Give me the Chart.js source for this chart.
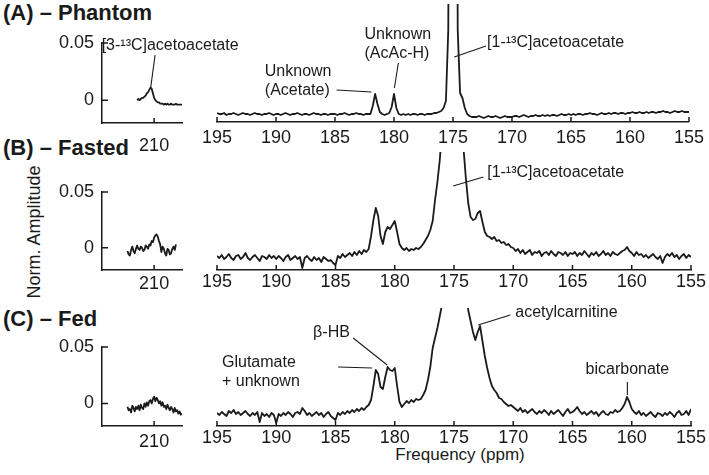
<!DOCTYPE html>
<html>
<head>
<meta charset="utf-8">
<script src="https://cdn.jsdelivr.net/npm/chart.js@4.4.0/dist/chart.umd.min.js"></script>
<style>
  body { margin: 0; background: #fff; }
  #fig {
    position: relative;
    width: 709px;
    height: 475px;
    overflow: hidden;
    font-family: "Liberation Sans", Arial, Helvetica, sans-serif;
    color: #1a1a1a;
  }
  #fig canvas { position: absolute; }
  .title { position: absolute; left: 3px; font-size: 22px; font-weight: bold; line-height: 22px; white-space: nowrap; }
  .ylab { position: absolute; font-size: 18px; white-space: nowrap; transform: translate(-50%, -50%) rotate(-90deg); }
  .xlab { position: absolute; font-size: 17px; white-space: nowrap; transform: translate(-50%, -50%); }
</style>
</head>
<body>
<div id="fig">
  <div class="title" style="top:2px">(A) – Phantom</div>
  <div class="title" style="top:137px">(B) – Fasted</div>
  <div class="title" style="top:308px">(C) – Fed</div>
  <div class="ylab" style="left:34px;top:232px">Norm. Amplitude</div>
  <div class="xlab" style="left:460px;top:455px">Frequency (ppm)</div>

  <canvas id="leftA" width="230" height="133" style="left:40px;top:20px"></canvas>
  <canvas id="leftB" width="230" height="130" style="left:40px;top:170px"></canvas>
  <canvas id="leftC" width="230" height="131" style="left:40px;top:325px"></canvas>
  <canvas id="rightA" width="512" height="152" style="left:197px;top:0px"></canvas>
  <canvas id="rightB" width="512" height="152" style="left:197px;top:148px"></canvas>
  <canvas id="rightC" width="512" height="152" style="left:197px;top:304px"></canvas>
</div>

<script>
// amplitudes are in units of 1e-3 (norm. amplitude)

// 195 -> 155 ppm window
const ppmRight = [
  195,194.8,194.6,194.4,194.2,194,193.8,193.6,193.4,193.2,193,192.8,192.6,192.4,192.2,192,191.8,191.6,191.4,191.2,191,190.8,190.6,190.4,190.2,
  190,189.8,189.6,189.4,189.2,189,188.8,188.6,188.4,188.2,188,187.8,187.6,187.4,187.2,187,186.8,186.6,186.4,186.2,186,185.8,185.6,185.4,185.2,
  185,184.8,184.6,184.4,184.2,184,183.8,183.6,183.4,183.2,183,182.8,182.6,182.4,182.2,182,181.8,181.6,181.4,181.2,181,180.8,180.6,180.4,180.2,
  180,179.8,179.6,179.4,179.2,179,178.8,178.6,178.4,178.2,178,177.8,177.6,177.4,177.2,177,176.8,176.6,176.4,176.2,176,175.8,175.6,175.4,175.2,
  175,174.8,174.6,174.4,174.2,174,173.8,173.6,173.4,173.2,173,172.8,172.6,172.4,172.2,172,171.8,171.6,171.4,171.2,171,170.8,170.6,170.4,170.2,
  170,169.8,169.6,169.4,169.2,169,168.8,168.6,168.4,168.2,168,167.8,167.6,167.4,167.2,167,166.8,166.6,166.4,166.2,166,165.8,165.6,165.4,165.2,
  165,164.8,164.6,164.4,164.2,164,163.8,163.6,163.4,163.2,163,162.8,162.6,162.4,162.2,162,161.8,161.6,161.4,161.2,161,160.8,160.6,160.4,160.2,
  160,159.8,159.6,159.4,159.2,159,158.8,158.6,158.4,158.2,158,157.8,157.6,157.4,157.2,157,156.8,156.6,156.4,156.2,156,155.8,155.6,155.4,155.2,
  155
];

const ampPhantom = [
  -3,-4,-4,-3,-5,-4,-4,-3,-4,-5,-4,-3,-4,-4,-5,-4,-3,-4,-4,-5,-4,-4,-3,-4,-5,
  -4,-4,-5,-4,-3,-4,-5,-4,-4,-3,-4,-5,-4,-4,-5,-4,-3,-4,-4,-5,-4,-4,-5,-4,-4,
  -4,-5,-4,-4,-3,-4,-5,-4,-4,-3,-4,-4,-5,-4,-4,-4,4,16,6,-2,-4,-5,-4,-3,3,
  16,2,-4,-5,-4,-5,-4,-5,-4,-4,-5,-4,-4,-5,-4,-4,-4,-3,-3,-2,-1,2,9,80,700,
  1000,700,80,17,12,2,-4,-6,-7,-7,-7,-6,-7,-8,-7,-6,-7,-7,-6,-7,-8,-7,-6,-7,-7,
  -7,-6,-6,-7,-6,-5,-6,-7,-6,-6,-5,-6,-6,-5,-6,-5,-6,-5,-5,-6,-5,-4,-5,-5,-4,
  -5,-4,-5,-4,-4,-5,-4,-4,-3,-4,-4,-5,-4,-3,-4,-4,-3,-4,-3,-3,-4,-3,-3,-4,-3,
  -3,-2,-3,-3,-2,-3,-3,-2,-3,-2,-2,-3,-2,-2,-1,-2,-2,-3,-2,-1,-2,-2,-1,-2,-2,
  -2
];

const ampFasted = [
  2,0,3,-1,1,4,0,-2,2,3,-1,1,5,0,-2,1,3,0,-3,2,1,-1,3,0,2,
  -1,2,0,-3,1,3,-2,0,2,-1,1,-10,0,2,-1,-3,1,-2,0,-4,1,-1,-3,-2,-5,
  -7,2,0,4,1,3,5,2,6,3,7,4,8,6,9,22,38,50,42,22,14,26,31,29,33,
  37,26,14,10,8,10,7,9,8,10,9,11,14,18,22,28,37,58,76,98,130,170,210,250,280,
  300,280,240,180,110,80,55,41,38,39,45,47,36,26,22,21,19,21,17,18,15,16,13,14,11,
  10,7,9,5,8,4,6,8,3,6,5,7,2,5,6,3,7,4,2,6,5,3,6,2,5,
  4,6,2,5,3,7,4,1,5,3,6,2,4,7,3,5,2,6,4,3,5,7,8,11,7,
  5,2,6,3,4,1,3,0,2,4,1,-1,2,-5,1,4,2,5,1,3,-1,2,4,0,3,
  1
];

const ampFed = [
  1,-1,2,0,-2,3,1,4,0,2,-1,1,3,0,-2,1,-1,2,-8,1,-2,0,-3,1,-1,
  -9,0,-2,1,-1,2,0,-3,1,2,0,6,3,-1,1,-2,0,2,-1,1,-3,0,2,-2,-4,
  -6,1,-1,2,0,3,1,4,2,5,3,6,4,7,9,14,28,44,40,27,25,37,47,44,43,
  46,28,12,7,10,13,11,14,12,15,14,15,19,24,34,47,66,76,86,98,110,150,200,240,270,
  280,270,240,200,160,125,104,93,82,74,82,88,73,58,46,36,28,24,21,16,15,12,10,8,9,
  7,5,3,6,2,4,1,3,5,2,0,3,1,4,2,-1,3,0,2,4,1,-2,2,5,1,
  2,4,7,3,0,2,-1,1,3,0,2,-2,1,3,0,-1,2,1,4,2,3,6,10,17,12,
  5,2,0,3,-1,1,-2,0,2,-1,-3,1,0,-2,1,-1,2,0,-3,1,3,-1,0,3,-1,
  5
];

// ~210 ppm inset window
const ppmLeft = [
  212.2,212.1,212,211.9,211.8,211.7,211.6,211.5,211.4,211.3,
  211.2,211.1,211,210.9,210.8,210.7,210.6,210.5,210.4,210.3,
  210.2,210.1,210,209.9,209.8,209.7,209.6,209.5,209.4,209.3,
  209.2,209.1,209,208.9,208.8,208.7,208.6,208.5,208.4,208.3,
  208.2,208.1,208,207.9,207.8,207.7
];

const insetPhantom = [
  null,null,null,null,null,null,null,null,0,1,
  0,1,2,2,3,4,6,7,9,11,
  10,6,2,0,-1,-2,-2,-3,-3,-3,
  -4,-3,-4,-3,-4,-4,-3,-4,-4,-4,
  -3,-4,-4,-4,-4,-4
];

const insetFasted = [
  -3,-6,-7,-2,1,-3,-5,-1,2,-1,
  -2,1,0,-3,-2,2,1,-1,3,2,
  6,5,9,11,12,10,6,3,-4,1,
  -1,-5,-7,-1,-2,-6,-5,-1,1,-2,
  3,null,null,null,null,null
];

const insetFed = [
  -3,-6,-5,-8,-2,-4,-7,-3,-5,-2,
  -6,-1,-4,-5,0,-3,1,-2,2,3,
  0,4,6,2,5,3,0,2,-2,1,
  -3,-2,-5,-1,-4,-6,-3,-5,-8,-4,
  -7,-6,-9,-7,-10,-9
];

const freqTicks = [195, 190, 185, 180, 175, 170, 165, 160, 155];
const insetTicks = [210];
const ampTicks = [0, 50];
const ampTickLabels = ['0', '0.05'];

const family = '"Liberation Sans", Arial, Helvetica, sans-serif';
const ink = '#1a1a1a';

// labels with leader lines, placed in data coordinates (ppm, amplitude)
const notesPhantomInset = [
  { text: ['[3-¹³C]acetoacetate'], at: [214.33, 48], line: [[209.92, 39.5], [210.29, 10.5]] }
];
const notesPhantom = [
  { text: ['Unknown', '(Acetate)'], at: [190.95, 38], line: [[184.86, 20], [181.91, 18]] },
  { text: ['Unknown', '(AcAc-H)'], at: [182.5, 75], line: [[179.63, 47], [179.97, 22]] },
  { text: ['[1-¹³C]acetoacetate'], at: [172.11, 67], line: [[172.2, 64], [174.9, 53]] }
];
const notesFasted = [
  { text: ['[1-¹³C]acetoacetate'], at: [172.2, 85], line: [[172.53, 81], [175.07, 72]] }
];
const notesFed = [
  { text: ['β-HB'], at: [186.89, 81], line: [[183.51, 76], [180.64, 49]] },
  { text: ['Glutamate', '+ unknown'], at: [194.58, 51], line: [[184.78, 47], [181.91, 46]] },
  { text: ['acetylcarnitine'], at: [169.83, 101], line: [[170.25, 99], [172.96, 89]] },
  { text: ['bicarbonate'], at: [160.37, 44], align: 'center', line: [[160.37, 32], [160.37, 19]] }
];

// tick marks pointing into the plot, like the original figure
const inwardTicks = {
  id: 'inwardTicks',
  afterDraw(chart, args, opts) {
    const { ctx } = chart;
    const xs = chart.scales.x;
    const ys = chart.scales.y;
    ctx.save();
    ctx.strokeStyle = ink;
    ctx.lineWidth = 1.5;
    ctx.beginPath();
    xs.ticks.forEach(t => {
      const px = xs.getPixelForValue(t.value);
      ctx.moveTo(px, xs.top);
      ctx.lineTo(px, xs.top - opts.x);
    });
    if (ys.options.display) {
      ys.ticks.forEach(t => {
        const py = ys.getPixelForValue(t.value);
        ctx.moveTo(ys.right, py);
        ctx.lineTo(ys.right + opts.y, py);
      });
    }
    ctx.stroke();
    ctx.restore();
  }
};

const notes = {
  id: 'notes',
  afterDraw(chart, args, opts) {
    const { ctx } = chart;
    const xs = chart.scales.x;
    const ys = chart.scales.y;
    ctx.save();
    ctx.font = '16px ' + family;
    ctx.fillStyle = ink;
    ctx.strokeStyle = ink;
    ctx.lineWidth = 1.1;
    ctx.textBaseline = 'middle';
    (opts.items || []).forEach(n => {
      const px = xs.getPixelForValue(n.at[0]);
      const py = ys.getPixelForValue(n.at[1]);
      ctx.textAlign = n.align || 'left';
      n.text.forEach((t, k) => ctx.fillText(t, px, py + k * 18.5));
      if (n.line) {
        ctx.beginPath();
        ctx.moveTo(xs.getPixelForValue(n.line[0][0]), ys.getPixelForValue(n.line[0][1]));
        ctx.lineTo(xs.getPixelForValue(n.line[1][0]), ys.getPixelForValue(n.line[1][1]));
        ctx.stroke();
      }
    });
    ctx.restore();
  }
};

function spectrum(id, ppm, amp, opt) {
  const inset = opt.inset;
  return new Chart(document.getElementById(id), {
    type: 'line',
    data: {
      datasets: [{
        data: ppm.map((p, i) => ({ x: p, y: amp[i] })),
        borderColor: ink,
        borderWidth: 1.8,
        borderJoinStyle: 'round',
        pointRadius: 0,
        spanGaps: false
      }]
    },
    options: {
      responsive: false,
      animation: false,
      events: [],
      layout: { padding: opt.pad },
      plugins: {
        legend: { display: false },
        tooltip: { enabled: false },
        inwardTicks: { x: 5, y: 6 },
        notes: { items: opt.notes }
      },
      scales: {
        x: {
          type: 'linear',
          reverse: true,
          min: inset ? 207.7 : 155,
          max: inset ? 214.3 : 195,
          afterBuildTicks: s => { s.ticks = (inset ? insetTicks : freqTicks).map(v => ({ value: v })); },
          afterFit: s => { s.height = 30; },
          ticks: { font: { family, size: 18 }, color: ink, padding: opt.xPad, autoSkip: false, maxRotation: 0 },
          grid: { display: false, drawTicks: false },
          border: { color: ink, width: 1.5 }
        },
        y: {
          display: inset,
          min: inset ? -20 : -12,
          max: inset ? 50 : 106,
          afterBuildTicks: s => { s.ticks = ampTicks.map(v => ({ value: v })); },
          afterFit: s => { if (inset) s.width = 56; },
          ticks: { font: { family, size: 18 }, color: ink, padding: 8, callback: (v, i) => ampTickLabels[i] },
          grid: { display: false, drawTicks: false },
          border: { color: ink, width: 1.5 }
        }
      }
    },
    plugins: [inwardTicks, notes]
  });
}

const insetPad = (top) => ({ left: 6, right: 88, top: top, bottom: 0 });
const mainPad = { left: 20, right: 18, top: 4, bottom: 0 };

spectrum('leftA', ppmLeft, insetPhantom, { inset: true, pad: insetPad(23), xPad: 12, notes: notesPhantomInset });
spectrum('leftB', ppmLeft, insetFasted, { inset: true, pad: insetPad(22), xPad: 3, notes: [] });
spectrum('leftC', ppmLeft, insetFed, { inset: true, pad: insetPad(22), xPad: 5, notes: [] });
spectrum('rightA', ppmRight, ampPhantom, { inset: false, pad: mainPad, xPad: 5, notes: notesPhantom });
spectrum('rightB', ppmRight, ampFasted, { inset: false, pad: mainPad, xPad: 1, notes: notesFasted });
spectrum('rightC', ppmRight, ampFed, { inset: false, pad: mainPad, xPad: 1, notes: notesFed });
</script>
</body>
</html>
